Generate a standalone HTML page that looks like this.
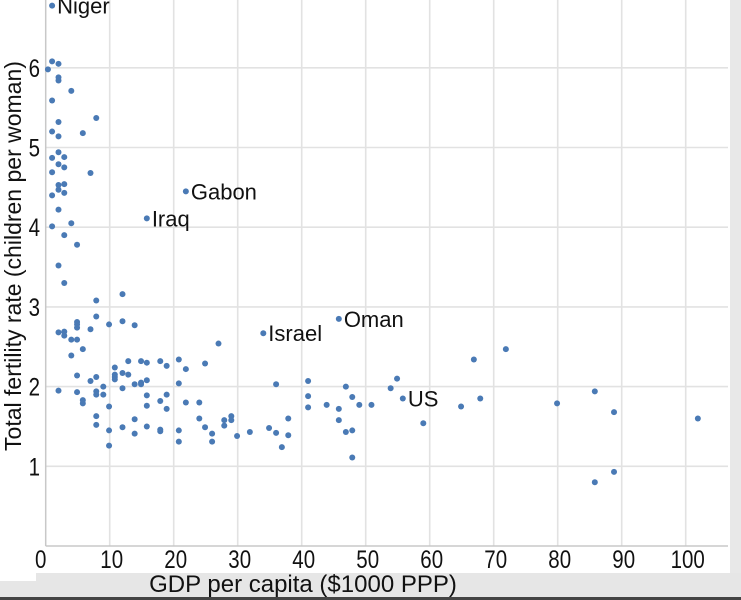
<!DOCTYPE html>
<html><head><meta charset="utf-8">
<style>
html,body{margin:0;padding:0;background:#fff;width:741px;height:600px;overflow:hidden;font-family:"Liberation Sans",sans-serif;}
svg{display:block}
</style></head>
<body>
<svg id="chart" width="741" height="600" xmlns="http://www.w3.org/2000/svg">
  <rect x="730" y="0" width="11" height="575" fill="#e8e8e8"/>
  <rect x="0" y="573" width="741" height="24" fill="#e6e6e6"/>
  <rect x="0" y="573" width="36" height="8" fill="#fff"/>
  <rect x="0" y="597" width="741" height="3" fill="#444"/>
  <g id="grid"></g>
  <g id="axes"></g>
  <g id="points"></g>
  <g id="labels"></g>
  <text x="0" y="0" transform="translate(21,256) rotate(-90)" text-anchor="middle" font-size="23" fill="#111">Total fertility rate (children per woman)</text>
  <text x="303" y="592" text-anchor="middle" font-size="24" fill="#111" transform="translate(303,592) scale(1.0,1) translate(-303,-592)">GDP per capita ($1000 PPP)</text>
</svg>
<script>
const xTicks = [0,10,20,30,40,50,60,70,80,90,100];
const yTicks = [1,2,3,4,5,6];
const gdp = [1.0,1.0,2.0,0.35,2.0,2.0,4.0,1.0,7.9,2.0,1.0,5.8,2.0,2.0,1.0,2.9,2.0,2.9,1.0,7.0,2.0,2.9,2.0,2.9,1.0,21.9,2.0,15.8,1.0,4.0,2.9,4.9,
2.0,2.9,7.9,12.0,7.9,9.9,12.0,13.9,4.9,4.9,4.9,7.0,2.0,2.9,2.9,4.0,4.9,5.8,4.0,27.0,12.9,14.9,15.8,17.9,18.9,20.8,21.9,24.9,10.8,4.9,7.9,7.0,10.8,10.8,10.8,12.0,12.9,13.9,14.9,14.9,15.8,20.8,2.0,9.0,12.0,4.9,7.9,7.9,9.0,15.8,18.9,5.8,5.8,17.9,21.9,24.0,9.9,15.8,18.9,7.9,13.9,24.0,27.9,7.9,12.0,15.8,24.9,27.9,9.9,17.9,17.9,20.8,13.9,26.0,20.8,26.0,9.9,
34.0,45.8,36.0,41.0,41.0,41.0,43.9,45.8,46.9,47.9,49.0,50.9,53.9,54.9,55.8,59.0,64.9,66.9,67.9,29.0,29.0,29.9,31.9,34.9,36.0,37.9,37.9,36.9,45.8,46.9,47.9,47.9,
71.9,79.9,85.8,88.8,101.9,88.8,85.8];
const tfr = [6.78,6.08,6.05,5.98,5.88,5.84,5.71,5.59,5.37,5.32,5.20,5.18,5.14,4.94,4.87,4.88,4.79,4.75,4.69,4.68,4.53,4.54,4.47,4.43,4.40,4.45,4.22,4.11,4.01,4.05,3.90,3.78,
3.52,3.30,3.08,3.16,2.88,2.78,2.82,2.77,2.81,2.78,2.74,2.72,2.68,2.69,2.64,2.59,2.59,2.47,2.39,2.54,2.32,2.32,2.30,2.32,2.26,2.34,2.22,2.29,2.24,2.14,2.12,2.07,2.15,2.12,2.09,2.17,2.15,2.03,2.05,2.03,2.08,2.04,1.95,2.00,1.98,1.93,1.94,1.90,1.90,1.89,1.90,1.83,1.79,1.82,1.80,1.80,1.75,1.76,1.72,1.63,1.59,1.60,1.58,1.52,1.49,1.50,1.49,1.51,1.45,1.46,1.44,1.45,1.41,1.41,1.31,1.31,1.26,
2.67,2.85,2.03,2.07,1.88,1.74,1.77,1.72,2.00,1.87,1.77,1.77,1.98,2.10,1.85,1.54,1.75,2.34,1.85,1.63,1.58,1.38,1.43,1.48,1.42,1.60,1.39,1.24,1.58,1.43,1.45,1.11,
2.47,1.79,1.94,1.68,1.60,0.93,0.80];
const labelNames = ["Niger","Gabon","Iraq","Israel","Oman","US"];
const labelGdp = [1.0,21.9,15.8,34.0,45.8,55.8];
const labelTfr = [6.78,4.45,4.11,2.67,2.85,1.85];

const NS="http://www.w3.org/2000/svg";
const X0=45.7, XS=6.4, Y0=546, YS=79.7, XR=728;
function sx(v){return X0+v*XS;}
function sy(v){return Y0-v*YS;}
function mk(tag,attrs,parent){const e=document.createElementNS(NS,tag);for(const k in attrs)e.setAttribute(k,attrs[k]);parent.appendChild(e);return e;}
const grid=document.getElementById('grid'), axes=document.getElementById('axes'), pts=document.getElementById('points'), lab=document.getElementById('labels');
xTicks.forEach(t=>{
  if(t>0){const l=mk('line',{x1:sx(t),x2:sx(t),y1:0,y2:Y0,stroke:'#e2e2e2','stroke-width':1.6},grid);
  
  }
  const cx=sx(t)+(t===0?-5:2);
  const tx=mk('text',{x:0,y:0,'text-anchor':'middle','font-size':25,fill:'#111',transform:'translate('+cx+',568) scale(0.82,1)'},axes);
  tx.textContent=t;
  
  
});
yTicks.forEach(t=>{
  const l=mk('line',{x1:X0,x2:XR,y1:sy(t),y2:sy(t),stroke:'#e2e2e2','stroke-width':1.6},grid);
  
  
  const tx=mk('text',{x:0,y:0,'text-anchor':'end','font-size':25,fill:'#111',transform:'translate(40,'+(sy(t)+9)+') scale(0.82,1)'},axes);
  tx.textContent=t;
  
  
});
const ya=mk('line',{x1:X0,x2:X0,y1:0,y2:Y0,stroke:'#c8c8c8','stroke-width':1.5},axes);


const xa=mk('line',{x1:X0,x2:XR,y1:Y0,y2:Y0,stroke:'#c8c8c8','stroke-width':1.5},axes);


gdp.forEach((g,i)=>{
  const c=mk('circle',{cx:sx(g),cy:sy(tfr[i]),r:3,fill:'#4a7ab5'},pts);
  
  
});
labelNames.forEach((n,i)=>{
  const t=mk('text',{x:sx(labelGdp[i])+5,y:sy(labelTfr[i])+8,'font-size':22,fill:'#111'},lab);
  t.textContent=n;
  
  
});
</script>
</body></html>
